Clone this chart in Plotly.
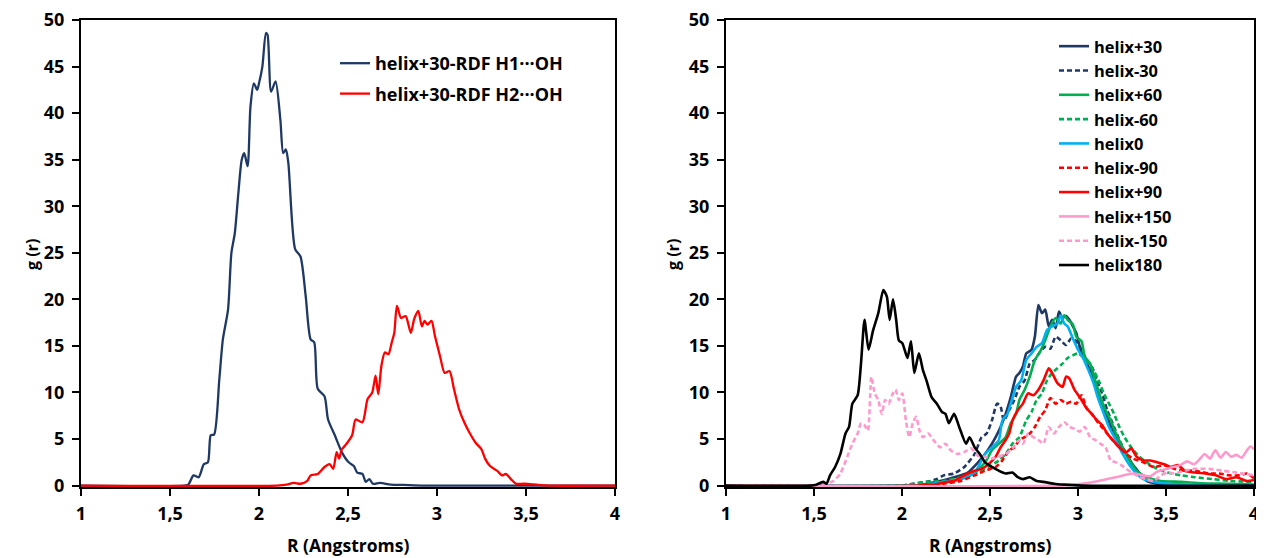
import plotly.graph_objects as go

# ---- left panel: helix+30 RDF, H1/H2 ... OH
r_h1 = [1.0, 1.58, 1.603, 1.632, 1.661, 1.69, 1.713, 1.729, 1.748, 1.777, 1.797, 1.826, 1.845, 1.864,
        1.884, 1.903, 1.917, 1.936, 1.952, 1.971, 1.99, 2.0, 2.019, 2.039, 2.048, 2.068, 2.093, 2.12,
        2.136, 2.151, 2.165, 2.203, 2.233, 2.262, 2.29, 2.31, 2.33, 2.368, 2.388, 2.426, 2.465, 2.504,
        2.533, 2.552, 2.581, 2.60, 2.62, 2.64, 2.68, 2.74, 2.81, 2.93, 4.0]
g_h1 = [0, 0, 0.1, 1.1, 0.9, 2.3, 2.5, 5.4, 5.5, 11.4, 15.7, 18.9, 25, 27.1,
        31.4, 35, 35.7, 34.3, 40.7, 43.2, 42.5, 43.2, 45, 48.6, 48.4, 42.3, 43.4, 39.3,
        35.7, 36.1, 34.6, 25.4, 24.6, 20.4, 15.7, 15.4, 10.4, 9.6, 7.1, 5.4, 3.6, 2.5,
        2.1, 1.4, 1.25, 0.4, 0.7, 0.2, 0.3, 0.1, 0.07, 0, 0]

r_h2 = [1.0, 2.10, 2.155, 2.194, 2.233, 2.271, 2.29, 2.33, 2.368, 2.397, 2.417, 2.436, 2.45, 2.465,
        2.484, 2.523, 2.543, 2.581, 2.61, 2.636, 2.655, 2.67, 2.688, 2.707, 2.727, 2.746, 2.76,
        2.775, 2.798, 2.824, 2.853, 2.872, 2.895, 2.915, 2.93, 2.946, 2.969, 2.988, 3.017, 3.043,
        3.07, 3.095, 3.124, 3.153, 3.182, 3.217, 3.25, 3.27, 3.298, 3.337, 3.366, 3.386, 3.415,
        3.444, 3.49, 3.57, 3.63, 4.0]
g_h2 = [0, 0, 0.1, 0.3, 0.2, 0.5, 1.1, 1.25, 2.0, 2.3, 1.8, 3.6, 2.9, 3.9,
        4.3, 5.4, 7.1, 6.8, 9.3, 10, 11.8, 9.8, 12.9, 14.3, 14.1, 15.4, 16.4,
        19.3, 18.0, 18.2, 16.4, 17.9, 18.75, 17.1, 17.7, 17.3, 17.7, 16.1, 13.9, 12.1,
        12.3, 10.4, 8.2, 6.8, 5.7, 4.6, 3.9, 2.9, 2.1, 1.6, 1.1, 1.25, 0.7,
        0.2, 0.2, 0.07, 0, 0]

# ---- right panel: all helices
r_p30 = [1.0, 2.08, 2.139, 2.217, 2.296, 2.374, 2.432, 2.472, 2.511, 2.532, 2.56, 2.589, 2.618, 2.648,
         2.667, 2.687, 2.706, 2.736, 2.755, 2.775, 2.795, 2.814, 2.834, 2.853, 2.873, 2.892, 2.912,
         2.932, 2.951, 2.971, 2.99, 3.01, 3.029, 3.049, 3.078, 3.108, 3.137, 3.166, 3.196, 3.235,
         3.274, 3.313, 3.352, 3.391, 3.45, 3.548, 3.665, 4.0]
g_p30 = [0, 0, 0.2, 0.5, 0.9, 1.4, 2.5, 3.4, 4.5, 5.2, 6.3, 7.7, 9.5, 11.7,
         12.1, 12.8, 14.2, 14.6, 16.0, 19.4, 18.5, 18.9, 17.1, 17.8, 16.9, 18.7, 18.0,
         18.2, 17.8, 17.1, 16.4, 14.9, 13.8, 13.1, 12.1, 10.3, 8.8, 7.4, 5.9, 4.5,
         3.4, 2.2, 1.3, 0.5, 0.2, 0.1, 0, 0]

r_m30 = [1.0, 2.0, 2.061, 2.139, 2.198, 2.237, 2.296, 2.354, 2.413, 2.452, 2.481, 2.511, 2.54, 2.56,
         2.579, 2.609, 2.638, 2.667, 2.697, 2.726, 2.755, 2.785, 2.814, 2.843, 2.873, 2.902, 2.932,
         2.961, 2.99, 3.02, 3.049, 3.078, 3.108, 3.137, 3.166, 3.196, 3.235, 3.274, 3.313, 3.352,
         3.391, 3.45, 3.548, 3.705, 4.0]
g_m30 = [0, 0, 0.2, 0.4, 0.7, 1.1, 1.3, 2.0, 3.4, 5.2, 5.6, 7.0, 8.8, 8.5,
         7.0, 8.1, 9.2, 10.6, 11.3, 13.1, 13.5, 14.4, 14.9, 14.7, 16.0, 15.6, 15.1,
         15.8, 15.5, 14.6, 13.5, 12.8, 11.3, 9.9, 8.1, 6.7, 4.9, 3.4, 2.0, 1.1,
         0.5, 0.25, 0.1, 0, 0]

r_p60 = [1.0, 2.12, 2.178, 2.256, 2.335, 2.413, 2.472, 2.511, 2.55, 2.589, 2.618, 2.648, 2.667, 2.697,
         2.726, 2.755, 2.785, 2.814, 2.843, 2.873, 2.902, 2.922, 2.941, 2.971, 2.99, 3.02, 3.039,
         3.069, 3.098, 3.127, 3.157, 3.186, 3.215, 3.254, 3.293, 3.333, 3.391, 3.47, 3.587, 3.705,
         3.861, 4.0]
g_p60 = [0, 0, 0.1, 0.4, 0.7, 1.4, 2.5, 3.8, 4.5, 5.2, 6.7, 7.7, 9.2, 10.3,
         11.7, 13.5, 14.4, 15.6, 17.1, 18.0, 17.4, 18.3, 17.8, 17.3, 16.0, 15.5, 13.8,
         13.1, 11.3, 9.5, 8.1, 7.0, 5.6, 4.1, 2.7, 1.6, 0.9, 0.5, 0.4, 0.25,
         0.2, 0.1]

r_m60 = [1.0, 2.0, 2.041, 2.139, 2.237, 2.335, 2.413, 2.491, 2.55, 2.589, 2.628, 2.667, 2.706, 2.736,
         2.765, 2.795, 2.824, 2.853, 2.883, 2.912, 2.941, 2.971, 3.0, 3.029, 3.059, 3.088, 3.117,
         3.147, 3.176, 3.205, 3.235, 3.264, 3.303, 3.343, 3.391, 3.45, 3.509, 3.587, 3.665, 3.763,
         3.861, 4.0]
g_m60 = [0, 0, 0.1, 0.4, 0.5, 0.9, 1.3, 2.0, 2.7, 3.4, 4.5, 5.2, 7.0, 7.9,
         9.2, 9.9, 11.3, 12.1, 12.6, 13.1, 13.7, 14.0, 14.2, 13.8, 13.1, 12.4, 11.3,
         9.9, 8.8, 7.7, 6.3, 5.2, 4.1, 3.2, 2.5, 1.8, 1.4, 1.1, 0.9, 0.7,
         0.5, 0.4]

r_0 = [1.0, 2.08, 2.139, 2.237, 2.335, 2.413, 2.472, 2.511, 2.55, 2.57, 2.599, 2.618, 2.648, 2.677,
       2.706, 2.736, 2.765, 2.795, 2.824, 2.853, 2.883, 2.902, 2.922, 2.941, 2.971, 3.0, 3.029,
       3.059, 3.088, 3.117, 3.147, 3.176, 3.215, 3.254, 3.293, 3.333, 3.372, 3.43, 3.509, 3.607,
       3.705, 4.0]
g_0 = [0, 0, 0.1, 0.4, 0.7, 1.4, 3.4, 4.1, 4.9, 7.0, 7.7, 8.8, 10.6, 11.3,
       13.5, 14.2, 14.9, 15.3, 16.7, 17.1, 17.4, 18.3, 17.4, 17.1, 15.8, 14.6, 13.7,
       12.4, 11.0, 9.2, 7.7, 6.3, 4.9, 3.4, 2.2, 1.3, 0.7, 0.4, 0.2, 0.1,
       0, 0]

r_m90 = [1.0, 2.18, 2.237, 2.335, 2.413, 2.472, 2.532, 2.57, 2.609, 2.638, 2.667, 2.697, 2.726, 2.755,
         2.785, 2.814, 2.843, 2.873, 2.902, 2.932, 2.961, 2.99, 3.02, 3.049, 3.078, 3.117, 3.157,
         3.196, 3.235, 3.274, 3.313, 3.372, 3.43, 3.489, 3.548, 3.607, 3.665, 3.744, 3.802, 3.861,
         3.92, 3.959, 4.0]
g_m90 = [0, 0, 0.2, 0.5, 1.1, 1.6, 2.0, 2.7, 3.8, 4.1, 4.9, 5.2, 5.6, 6.3,
         7.4, 8.1, 9.4, 8.8, 9.2, 8.8, 9.0, 8.8, 9.7, 8.3, 7.7, 6.7, 5.8,
         4.9, 4.1, 3.4, 2.9, 2.5, 2.0, 2.2, 1.8, 1.6, 1.6, 1.3, 1.3, 1.1,
         1.1, 1.3, 0.8]

r_p90 = [1.0, 2.10, 2.139, 2.178, 2.256, 2.296, 2.335, 2.374, 2.413, 2.452, 2.491, 2.532, 2.56, 2.589,
         2.609, 2.628, 2.658, 2.687, 2.716, 2.746, 2.775, 2.804, 2.834, 2.853, 2.883, 2.912, 2.932,
         2.951, 2.98, 3.02, 3.049, 3.078, 3.108, 3.137, 3.166, 3.196, 3.235, 3.274, 3.303, 3.333,
         3.372, 3.411, 3.45, 3.489, 3.528, 3.568, 3.607, 3.665, 3.724, 3.783, 3.841, 3.90, 3.959, 4.0]
g_p90 = [0, 0, 0.1, 0.1, 0.4, 0.5, 0.9, 1.3, 1.6, 1.8, 2.3, 3.1, 4.1, 4.9,
         5.6, 7.0, 8.1, 8.8, 9.9, 9.7, 10.3, 11.3, 12.6, 12.1, 11.0, 10.6, 11.7,
         11.5, 10.3, 9.2, 8.3, 7.7, 7.0, 6.5, 5.6, 4.9, 4.1, 3.6, 4.0, 3.1,
         2.7, 2.7, 2.5, 2.3, 2.0, 2.2, 1.6, 1.4, 1.3, 1.1, 0.7, 0.9, 0.5, 0.6]

r_p150 = [1.0, 2.9, 3.02, 3.117, 3.215, 3.313, 3.411, 3.45, 3.52, 3.58, 3.62, 3.66, 3.69, 3.72,
          3.75, 3.78, 3.81, 3.84, 3.87, 3.90, 3.93, 3.96, 3.98, 4.0]
g_p150 = [0, 0, 0.2, 0.5, 0.9, 1.3, 1.0, 1.5, 1.9, 2.2, 2.6, 2.3, 2.8, 3.4,
          2.9, 3.8, 3.0, 3.6, 3.1, 3.3, 3.0, 3.8, 4.2, 3.9]

r_m150 = [1.0, 1.50, 1.552, 1.611, 1.650, 1.689, 1.718, 1.748, 1.767, 1.787, 1.806, 1.826, 1.845, 1.865,
          1.885, 1.904, 1.924, 1.943, 1.963, 1.982, 2.002, 2.022, 2.041, 2.061, 2.08, 2.10, 2.119,
          2.149, 2.178, 2.217, 2.247, 2.276, 2.315, 2.354, 2.393, 2.432, 2.472, 2.511, 2.55, 2.589,
          2.628, 2.667, 2.687, 2.716, 2.746, 2.775, 2.804, 2.834, 2.863, 2.892, 2.922, 2.951, 2.98,
          3.01, 3.039, 3.069, 3.098, 3.127, 3.157, 3.186, 3.215, 3.245, 3.274, 3.313, 3.352, 3.391,
          3.43, 3.47, 3.509, 3.548, 3.607, 3.665, 3.744, 3.822, 3.90, 4.0]
g_m150 = [0, 0, 0.1, 0.5, 1.3, 3.1, 4.5, 5.6, 6.7, 6.5, 5.9, 11.7, 9.9, 9.2,
          7.7, 9.2, 8.8, 9.7, 10.3, 9.2, 9.9, 7.0, 5.2, 6.7, 7.4, 5.9, 5.2,
          5.6, 4.9, 4.1, 4.5, 3.8, 3.4, 3.6, 4.0, 3.2, 3.1, 2.9, 3.1, 3.4,
          4.0, 4.9, 4.5, 5.6, 5.2, 4.9, 4.5, 6.3, 5.6, 6.3, 6.8, 6.3, 6.1,
          5.8, 6.3, 5.2, 4.9, 4.5, 4.1, 2.7, 2.5, 2.2, 1.8, 1.3, 0.9, 0.7,
          0.5, 1.1, 1.4, 1.3, 1.6, 1.8, 1.8, 1.6, 1.4, 1.1]

r_180 = [1.0, 1.48, 1.513, 1.552, 1.571, 1.591, 1.620, 1.650, 1.679, 1.699, 1.718, 1.748, 1.767, 1.787,
         1.810, 1.836, 1.865, 1.894, 1.914, 1.93, 1.949, 1.967, 1.982, 2.002, 2.031, 2.051, 2.07,
         2.096, 2.119, 2.139, 2.168, 2.198, 2.227, 2.247, 2.266, 2.296, 2.325, 2.364, 2.384, 2.413,
         2.442, 2.472, 2.511, 2.55, 2.589, 2.628, 2.658, 2.687, 2.726, 2.765, 2.804, 2.863, 2.922,
         3.02, 4.0]
g_180 = [0, 0, 0.1, 0.4, 0.2, 1.1, 2.0, 3.4, 5.6, 6.3, 8.8, 9.7, 13.1, 17.8,
         14.6, 16.7, 18.5, 21.0, 20.3, 17.8, 20.0, 17.8, 15.6, 15.3, 13.7, 15.5, 12.1,
         14.2, 12.4, 11.3, 9.5, 8.8, 7.9, 7.7, 6.7, 7.7, 6.3, 4.5, 5.2, 4.1,
         3.4, 2.5, 2.0, 1.6, 1.3, 1.4, 0.9, 0.7, 0.9, 0.5, 0.4, 0.2, 0.1,
         0, 0]

x_tickvals = [1, 1.5, 2, 2.5, 3, 3.5, 4]
x_ticktext = ['1', '1,5', '2', '2,5', '3', '3,5', '4']
y_tickvals = [0, 5, 10, 15, 20, 25, 30, 35, 40, 45, 50]

NAVY = '#1F3864'
GREEN = '#00B050'
CYAN = '#00B0F0'
RED = '#FF0000'
PINK = '#FF99CC'

FONT = 'Open Sans'
# the page body has an 8px margin, so the figure is drawn 8px in from the window corner
OFF = 8
W, H = 1264 - OFF, 558 - OFF


def px(x):
    return (x - OFF) / W


def py(y):
    return 1 - (y - OFF) / H


fig = go.Figure()

fig.add_trace(go.Scatter(x=r_h1, y=g_h1, mode='lines', name='helix+30-RDF H1···OH',
                         line=dict(color=NAVY, width=2.3, shape='spline', smoothing=0.7),
                         xaxis='x', yaxis='y', legend='legend', legendgroup='a'))
fig.add_trace(go.Scatter(x=r_h2, y=g_h2, mode='lines', name='helix+30-RDF H2···OH',
                         line=dict(color=RED, width=2.3, shape='spline', smoothing=0.7),
                         xaxis='x', yaxis='y', legend='legend', legendgroup='b'))

right = [
    ('helix+30', r_p30, g_p30, NAVY, 'solid'),
    ('helix-30', r_m30, g_m30, NAVY, 'dash'),
    ('helix+60', r_p60, g_p60, GREEN, 'solid'),
    ('helix-60', r_m60, g_m60, GREEN, 'dash'),
    ('helix0', r_0, g_0, CYAN, 'solid'),
    ('helix-90', r_m90, g_m90, RED, 'dash'),
    ('helix+90', r_p90, g_p90, RED, 'solid'),
    ('helix+150', r_p150, g_p150, PINK, 'solid'),
    ('helix-150', r_m150, g_m150, PINK, 'dash'),
    ('helix180', r_180, g_180, 'black', 'solid'),
]
for name, rx, gy, col, dash in right:
    fig.add_trace(go.Scatter(x=rx, y=gy, mode='lines', name=name,
                             line=dict(color=col, width=2.6, shape='spline', smoothing=0.6,
                                       dash=dash if dash == 'solid' else '5px,3px'),
                             xaxis='x2', yaxis='y2', legend='legend2'))

tickfont = dict(family=FONT, size=18, color='black', weight='bold')
common_x = dict(range=[1, 4], tickvals=x_tickvals, ticktext=x_ticktext, ticks='outside',
                ticklen=7, tickwidth=2, tickcolor='black', showline=True, linecolor='black',
                linewidth=2, mirror=True, showgrid=False, zeroline=False, tickfont=tickfont,
                layer='below traces', automargin=False, ticklabelstandoff=2,
                ticklabeloverflow='allow')
common_y = dict(range=[-0.15, 50], tickvals=y_tickvals, ticks='outside', ticklen=7, tickwidth=2,
                tickcolor='black', showline=True, linecolor='black', linewidth=2, mirror=True,
                showgrid=False, zeroline=False, tickfont=tickfont,
                automargin=False, ticklabelstandoff=4, ticklabeloverflow='allow')

title_font = dict(family=FONT, size=16, weight='bold')
xtitle_font = dict(family=FONT, size=17.5, weight='bold')

# top and right edges of each plot box, in page pixels
boxes = [(81, 615, 20, 487), (726, 1254, 20, 487)]
frames = []
for x0, x1, y0, y1 in boxes:
    frames.append(dict(type='line', xref='paper', yref='paper', x0=px(x0 - 1), x1=px(x1 + 1),
                       y0=py(y0 - 1), y1=py(y0 - 1), line=dict(color='black', width=2),
                       layer='above'))
    frames.append(dict(type='line', xref='paper', yref='paper', x0=px(x1 + 1), x1=px(x1 + 1),
                       y0=py(y0 - 1), y1=py(y1 + 1), line=dict(color='black', width=2),
                       layer='above'))

fig.update_layout(
    width=W, height=H,
    margin=dict(l=0, r=0, t=0, b=0, autoexpand=False),
    plot_bgcolor='white', paper_bgcolor='white',
    font=dict(family=FONT, color='black'),
    xaxis=dict(common_x, domain=[px(81), px(615)], anchor='y'),
    yaxis=dict(common_y, domain=[py(487), py(20)], anchor='x'),
    xaxis2=dict(common_x, domain=[px(726), px(1254)], anchor='y2'),
    yaxis2=dict(common_y, domain=[py(487), py(20)], anchor='x2'),
    shapes=frames,
    legend=dict(x=px(335), y=py(45), xanchor='left', yanchor='top',
                bgcolor='rgba(0,0,0,0)', font=dict(family=FONT, size=18, weight='bold'),
                traceorder='grouped', tracegroupgap=4),
    legend2=dict(x=px(1054), y=py(29), xanchor='left', yanchor='top',
                 bgcolor='rgba(0,0,0,0)', font=dict(family=FONT, size=16.4, weight='bold')),
    annotations=[
        dict(text='g (r)', x=px(32), y=py(255), xref='paper', yref='paper', textangle=-90,
             xanchor='center', yanchor='middle', showarrow=False, font=title_font),
        dict(text='g (r)', x=px(673), y=py(255), xref='paper', yref='paper', textangle=-90,
             xanchor='center', yanchor='middle', showarrow=False, font=title_font),
        dict(text='R (Angstroms)', x=px(348), y=py(545), xref='paper', yref='paper',
             xanchor='center', yanchor='middle', showarrow=False, font=xtitle_font),
        dict(text='R (Angstroms)', x=px(990), y=py(545), xref='paper', yref='paper',
             xanchor='center', yanchor='middle', showarrow=False, font=xtitle_font),
    ],
)

fig.write_html('out.html')
